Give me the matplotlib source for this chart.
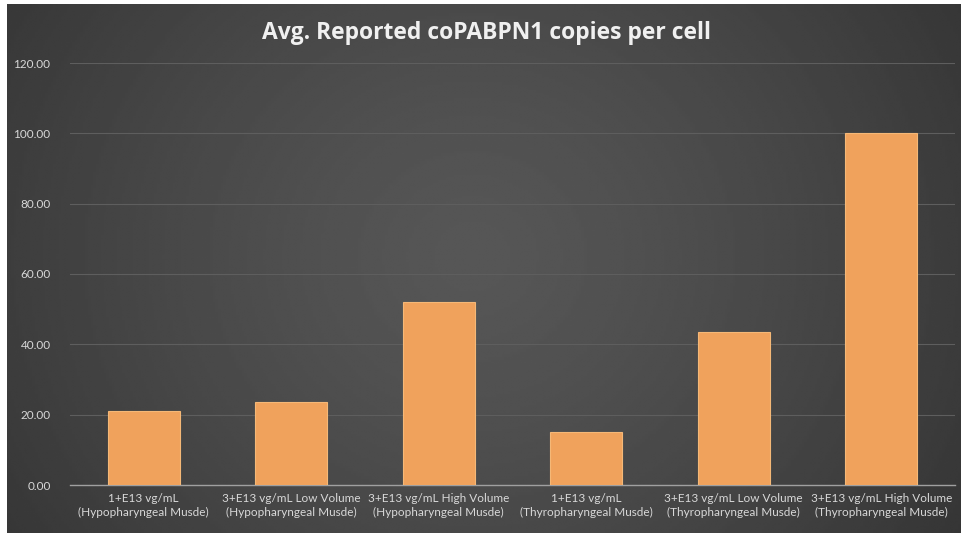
import numpy as np
import matplotlib
matplotlib.use("Agg")
import matplotlib.pyplot as plt

# data
categories = [
    "1+E13 vg/mL\n(Hypopharyngeal Musde)",
    "3+E13 vg/mL Low Volume\n(Hypopharyngeal Musde)",
    "3+E13 vg/mL High Volume\n(Hypopharyngeal Musde)",
    "1+E13 vg/mL\n(Thyropharyngeal Musde)",
    "3+E13 vg/mL Low Volume\n(Thyropharyngeal Musde)",
    "3+E13 vg/mL High Volume\n(Thyropharyngeal Musde)",
]
copies = [21.0, 23.6, 52.0, 15.1, 43.5, 100.0]
yticks = [0, 20, 40, 60, 80, 100, 120]

plt.rcParams['font.family'] = ['Lato', 'DejaVu Sans']

W, H = 962, 533
fig = plt.figure(figsize=(W / 100, H / 100), dpi=100)
fig.patch.set_facecolor('white')

# dark radial background
bg = fig.add_axes([7 / W, 0, (W - 7) / W, (H - 4) / H])
yy, xx = np.mgrid[0:200, 0:360]
r = np.sqrt(((xx - 175) / 360) ** 2 + ((yy - 95) / 200 * 0.6) ** 2)
r = r / r.max()
bg.imshow(0.34 - 0.13 * r ** 1.3, cmap='gray', vmin=0, vmax=1,
          aspect='auto', interpolation='bilinear')
bg.set_axis_off()

ax = fig.add_axes([70 / W, 48 / H, 885 / W, 422 / H])
ax.patch.set_alpha(0)
x = np.arange(len(categories))
ax.bar(x, copies, width=0.49, color='#F0A25C', edgecolor='#F5B877',
       linewidth=0.8, zorder=3)
ax.set_xlim(-0.5, len(categories) - 0.5)
ax.set_ylim(0, 120)
ax.set_yticks(yticks)
ax.set_yticklabels([f"{v:.2f}" for v in yticks])
ax.set_xticks(x)
ax.set_xticklabels(categories, fontsize=8.5, color='#d8d8d8', linespacing=1.25)
ax.tick_params(axis='y', labelsize=8.5, colors='#d8d8d8', length=0, pad=14)
ax.tick_params(axis='x', length=0, pad=6)
ax.grid(axis='y', color='#5e5e5e', linewidth=0.8, zorder=0)
for s in ['top', 'right', 'left']:
    ax.spines[s].set_visible(False)
ax.spines['bottom'].set_color('#a0a0a0')
ax.spines['bottom'].set_linewidth(1.0)

fig.text(487 / W, 1 - 33 / H, "Avg. Reported coPABPN1 copies per cell",
         ha='center', va='center', fontsize=16.5, fontweight='bold',
         color='#f0f0f0', family=['Open Sans', 'DejaVu Sans'])

fig.savefig("out.png", dpi=100, facecolor=fig.get_facecolor())
